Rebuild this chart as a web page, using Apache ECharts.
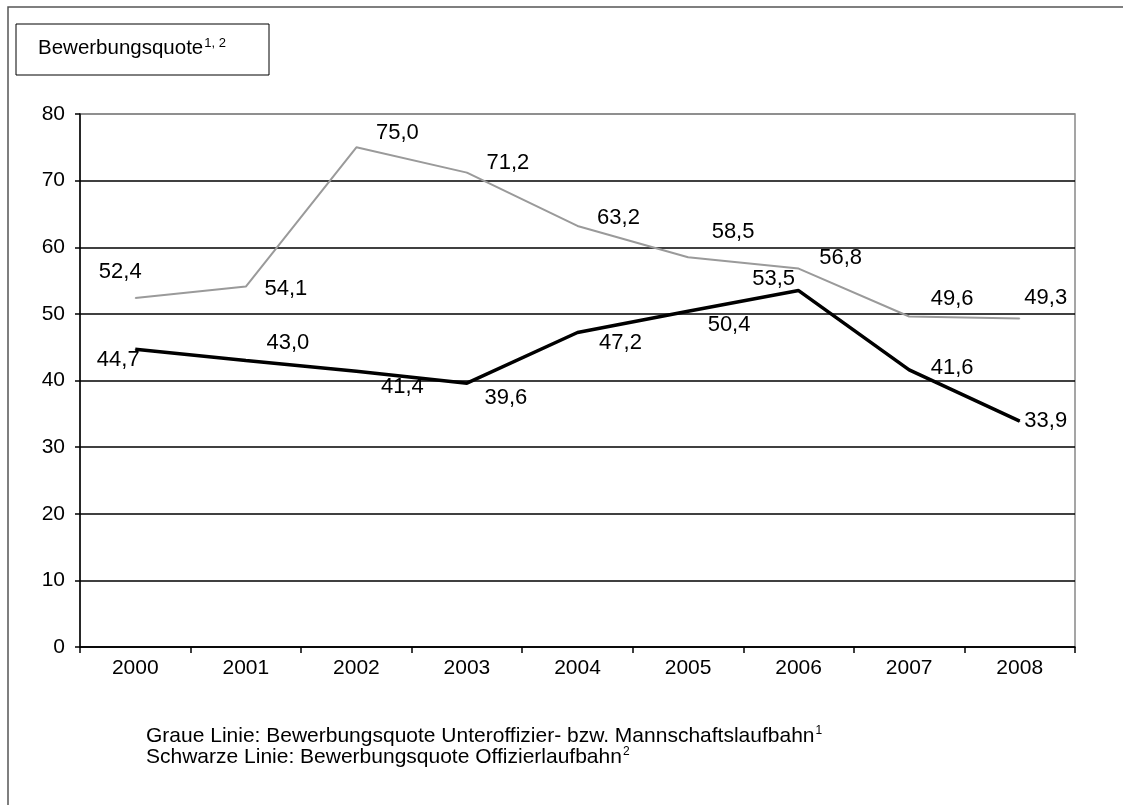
<!DOCTYPE html>
<html>
<head>
<meta charset="utf-8">
<script src="https://cdn.jsdelivr.net/npm/echarts@6/dist/echarts.min.js"></script>
<style>
html,body{margin:0;padding:0;background:#fff;}
#chart{width:1123px;height:805px;}
</style>
</head>
<body>
<div id="chart"></div>
<script>
// ---- data ----
const years = ['2000','2001','2002','2003','2004','2005','2006','2007','2008'];
const grayValues  = [52.4, 54.1, 75.0, 71.2, 63.2, 58.5, 56.8, 49.6, 49.3];
const blackValues = [44.7, 43.0, 41.4, 39.6, 47.2, 50.4, 53.5, 41.6, 33.9];
const yTicks = [0, 10, 20, 30, 40, 50, 60, 70, 80];
const titleText = 'Bewerbungsquote';
const titleSup = '1, 2';
const noteGray = 'Graue Linie: Bewerbungsquote Unteroffizier- bzw. Mannschaftslaufbahn';
const noteBlack = 'Schwarze Linie: Bewerbungsquote Offizierlaufbahn';

// ---- label placement (style only) ----
const grayLabelOffsets  = [[-15,-26],[40,2],[41,-14],[41,-10],[41,-8],[45,-25],[42,-11],[43,-18],[26,-21]];
const blackLabelOffsets = [[-17,11],[42,-18],[46,16],[39,15],[43,10],[41,14],[-25,-12],[43,-2],[26,0]];

const FONT = 'Liberation Sans, Arial, sans-serif';
const fmt = v => v.toFixed(1).replace('.', ',');

function withLabels(values, offsets) {
  return values.map((v, i) => ({ value: v, label: { offset: offsets[i] } }));
}

const chart = echarts.init(document.getElementById('chart'), null, { renderer: 'canvas' });
chart.setOption({
  animation: false,
  backgroundColor: '#fff',
  grid: {
    left: 80, right: 48, top: 114, bottom: 158,
    show: true, borderColor: '#888', borderWidth: 1.5, backgroundColor: 'transparent'
  },
  xAxis: {
    type: 'category',
    data: years,
    boundaryGap: true,
    axisLine: { lineStyle: { color: '#000', width: 1.5 } },
    axisTick: { show: true, interval: 0, length: 6, lineStyle: { color: '#000', width: 1.5 } },
    axisLabel: { color: '#000', fontFamily: FONT, fontSize: 21, margin: 11 },
    splitLine: { show: false }
  },
  yAxis: {
    type: 'value',
    min: yTicks[0], max: yTicks[yTicks.length - 1], interval: 10,
    axisLine: { show: true, lineStyle: { color: '#000', width: 1.5 } },
    axisTick: { show: true, length: 5, lineStyle: { color: '#000', width: 1.5 } },
    axisLabel: { color: '#000', fontFamily: FONT, fontSize: 21, margin: 15 },
    splitLine: { show: true, lineStyle: { color: ['#000','#000','#000','#000','#000','#000','#000','#000','#888'], width: 1.5 } }
  },
  series: [
    {
      name: 'Unteroffizier- bzw. Mannschaftslaufbahn',
      type: 'line',
      data: withLabels(grayValues, grayLabelOffsets),
      symbol: 'circle', symbolSize: 1,
      itemStyle: { color: '#9a9a9a' },
      lineStyle: { color: '#9a9a9a', width: 2 },
      label: { show: true, position: 'inside', align: 'center', verticalAlign: 'middle',
        color: '#000', fontFamily: FONT, fontSize: 22,
        formatter: p => fmt(p.value) },
      z: 3
    },
    {
      name: 'Offizierlaufbahn',
      type: 'line',
      data: withLabels(blackValues, blackLabelOffsets),
      symbol: 'circle', symbolSize: 1,
      itemStyle: { color: '#000' },
      lineStyle: { color: '#000', width: 3.5 },
      label: { show: true, position: 'inside', align: 'center', verticalAlign: 'middle',
        color: '#000', fontFamily: FONT, fontSize: 22,
        formatter: p => fmt(p.value) },
      z: 4
    }
  ],
  graphic: [
    { type: 'rect', shape: { x: 8, y: 7, width: 1300, height: 900 },
      style: { fill: 'none', stroke: '#555', lineWidth: 1.5 }, silent: true, z: -10 },
    { type: 'rect', shape: { x: 16, y: 24, width: 253, height: 51 },
      style: { fill: '#fff', stroke: '#000', lineWidth: 1 }, z: 10 },
    { type: 'text', x: 38, y: 37, z: 11,
      style: { text: '{a|' + titleText + '}{s|' + titleSup + '}',
        rich: {
          a: { fontFamily: FONT, fontSize: 20.5, fill: '#000' },
          s: { fontFamily: FONT, fontSize: 13, fill: '#000', padding: [0, 0, 10, 1] }
        } } },
    { type: 'text', x: 146, y: 725, z: 11,
      style: { text: '{a|' + noteGray + '}{s|1}',
        rich: {
          a: { fontFamily: FONT, fontSize: 21, fill: '#000' },
          s: { fontFamily: FONT, fontSize: 12, fill: '#000', padding: [0, 0, 10, 1] }
        } } },
    { type: 'text', x: 146, y: 746, z: 11,
      style: { text: '{a|' + noteBlack + '}{s|2}',
        rich: {
          a: { fontFamily: FONT, fontSize: 21, fill: '#000' },
          s: { fontFamily: FONT, fontSize: 12, fill: '#000', padding: [0, 0, 10, 1] }
        } } }
  ]
});
</script>
</body>
</html>
